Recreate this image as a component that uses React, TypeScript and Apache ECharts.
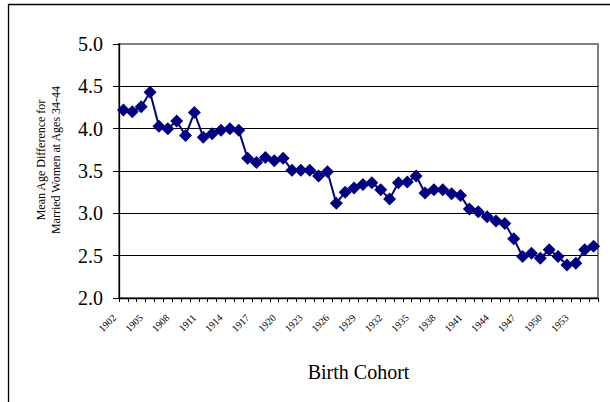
import React, { useEffect, useRef } from "react";
import * as echarts from "echarts";

const years: string[] = [
  "1902","1903","1904","1905","1906","1907","1908","1909","1910","1911",
  "1912","1913","1914","1915","1916","1917","1918","1919","1920","1921",
  "1922","1923","1924","1925","1926","1927","1928","1929","1930","1931",
  "1932","1933","1934","1935","1936","1937","1938","1939","1940","1941",
  "1942","1943","1944","1945","1946","1947","1948","1949","1950","1951",
  "1952","1953","1954","1955",
];

const ageDiff: number[] = [
  4.22, 4.20, 4.26, 4.43, 4.03, 4.00, 4.09, 3.92, 4.19, 3.90,
  3.94, 3.98, 4.00, 3.98, 3.65, 3.60, 3.66, 3.62, 3.65, 3.51,
  3.51, 3.51, 3.44, 3.49, 3.12, 3.25, 3.30, 3.34, 3.36, 3.28,
  3.17, 3.36, 3.37, 3.44, 3.24, 3.28, 3.28, 3.23, 3.21, 3.05,
  3.02, 2.96, 2.91, 2.88, 2.70, 2.49, 2.53, 2.47, 2.57, 2.49,
  2.39, 2.41, 2.57, 2.61,
];

const yMin = 2.0;
const yMax = 5.0;
const yStep = 0.5;
const labelEvery = 3;

const yTitle = "Mean Age Difference for\nMarried Women at Ages 34-44";
const xTitle = "Birth Cohort";

const FONT = "Liberation Serif";

export default function App() {
  const ref = useRef<HTMLDivElement>(null);

  useEffect(() => {
    if (!ref.current) return;
    const chart = echarts.init(ref.current, undefined, { renderer: "svg" });
    const baseGraphic: any[] = [
      {
        type: "rect",
        silent: true,
        shape: { x: 8.5, y: 4.5, width: 700, height: 500 },
        style: { fill: "none", stroke: "#000", lineWidth: 1.3 },
      },
      {
        type: "text",
        silent: true,
        x: 48,
        y: 160,
        rotation: Math.PI / 2,
        style: {
          text: yTitle,
          align: "center",
          verticalAlign: "middle",
          fontFamily: FONT,
          fontSize: 12,
          lineHeight: 15,
          fill: "#000",
        },
      },
    ];
    chart.setOption({
      animation: false,
      backgroundColor: "#ffffff",
      textStyle: { fontFamily: FONT },
      grid: {
        left: 119,
        top: 44,
        right: 12,
        bottom: 104,
        show: true,
        borderColor: "#808080",
        borderWidth: 2,
        backgroundColor: "transparent",
      },
      xAxis: {
        type: "category",
        data: years,
        boundaryGap: true,
        name: xTitle,
        nameLocation: "middle",
        nameGap: 64,
        nameTextStyle: { fontFamily: FONT, fontSize: 20, color: "#000" },
        axisLine: { show: true, lineStyle: { color: "#000", width: 1.3 } },
        axisTick: { show: true, interval: 0, length: 4, lineStyle: { color: "#000", width: 1 } },
        axisLabel: { show: false },
        splitLine: { show: false },
      },
      yAxis: {
        type: "value",
        min: yMin,
        max: yMax,
        interval: yStep,
        axisLine: { show: true, lineStyle: { color: "#000", width: 1.3 } },
        axisTick: { show: true, length: 6, lineStyle: { color: "#000", width: 1 } },
        axisLabel: {
          fontFamily: FONT,
          fontSize: 20,
          color: "#000",
          margin: 16,
          formatter: (v: number) => v.toFixed(1),
        },
        splitLine: {
          show: true,
          showMinLine: false,
          showMaxLine: false,
          lineStyle: { color: "#000", width: 1 },
        },
      },
      graphic: baseGraphic,
      series: [
        {
          type: "line",
          data: ageDiff,
          symbol: "diamond",
          symbolSize: 13,
          showAllSymbol: true,
          itemStyle: { color: "#000080" },
          lineStyle: { color: "#000080", width: 2 },
          z: 5,
        },
      ],
    });

    const axisY = chart.convertToPixel({ yAxisIndex: 0 }, yMin) as number;
    const labels: any[] = [];
    years.forEach((yr, i) => {
      if (i % labelEvery !== 0) return;
      const px = chart.convertToPixel({ xAxisIndex: 0 }, yr) as number;
      labels.push({
        type: "group",
        silent: true,
        x: px - 9,
        y: axisY + 18,
        rotation: Math.PI / 4,
        children: [
          {
            type: "text",
            silent: true,
            x: 0,
            y: 0,
            style: {
              text: yr,
              align: "right",
              verticalAlign: "middle",
              fontFamily: FONT,
              fontSize: 10,
              fill: "#000",
            },
          },
        ],
      });
    });
    chart.setOption({ graphic: [...baseGraphic, ...labels] });

    return () => chart.dispose();
  }, []);

  return (
    <div
      ref={ref}
      style={{ position: "fixed", left: 0, top: 0, width: 610, height: 402 }}
    />
  );
}
